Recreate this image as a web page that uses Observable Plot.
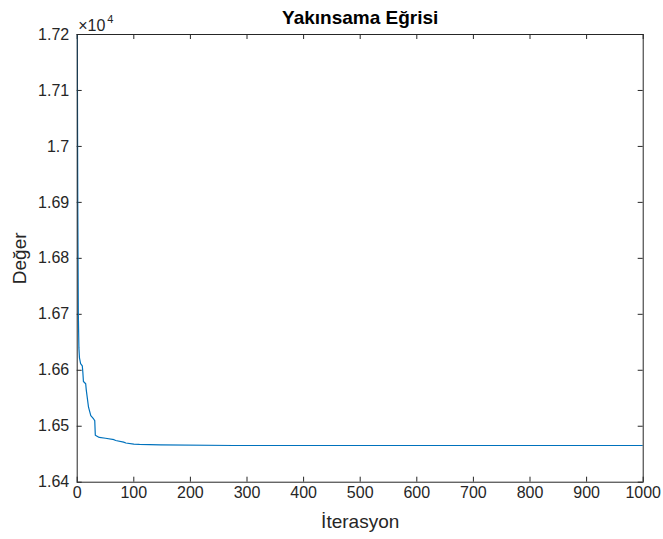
<!DOCTYPE html>
<html><head><meta charset="utf-8">
<script src="https://cdn.jsdelivr.net/npm/d3@7"></script>
<script src="https://cdn.jsdelivr.net/npm/@observablehq/plot@0.6"></script>
<style>html,body{margin:0;padding:0;background:#fff;}</style>
</head><body><div id="chart"></div>
<script>
// Convergence curve (iteration, best value)
const iterations = [0, 1, 2, 3, 4, 6, 9, 10, 11, 15, 16, 20, 24, 29, 31, 32, 39, 50, 65, 68, 82, 86, 100, 110, 147, 277, 1000];
const values = [17250, 16900, 16700, 16640, 16622, 16612, 16608, 16596, 16580, 16576, 16565, 16534, 16519, 16513, 16510, 16484, 16480, 16478.5, 16476, 16474.5, 16471.5, 16470, 16468, 16467.5, 16466.8, 16465.6, 16465.6];

const xTicks = [0, 100, 200, 300, 400, 500, 600, 700, 800, 900, 1000];
const yTicks = [16400, 16500, 16600, 16700, 16800, 16900, 17000, 17100, 17200];
const yTickLabels = ["1.64", "1.65", "1.66", "1.67", "1.68", "1.69", "1.7", "1.71", "1.72"];
const titleText = "Yakınsama Eğrisi";
const xLabelText = "İterasyon";
const yLabelText = "Değer";
const expBase = "×10";
const expPower = "4";

const W = 663, H = 539;
const mL = 76.7, mR = 20.3, mT = 34, mB = 57.3;
const frameH = H - mT - mB, frameW = W - mL - mR;
const ink = "#262626";
const data = iterations.map((x, i) => ({x, y: values[i]}));

const chart = Plot.plot({
  width: W, height: H,
  marginLeft: mL, marginRight: mR, marginTop: mT, marginBottom: mB,
  x: {domain: [0, 1000]},
  y: {domain: [16400, 17200]},
  style: {fontFamily: "'Liberation Sans', Arial, sans-serif", fontSize: "16px", color: ink, background: "#fff", overflow: "visible"},
  marks: [
    Plot.axisX(xTicks, {anchor: "bottom", tickSize: 0, tickPadding: 4, tickFormat: d => String(d), label: null, fontSize: 16}),
    Plot.axisY(yTicks, {anchor: "left", tickSize: 0, tickPadding: 8, tickFormat: d => yTickLabels[yTicks.indexOf(d)], label: null, fontSize: 16}),
    Plot.tickX(xTicks, {x: d => d, stroke: ink, insetTop: frameH - 5}),
    Plot.tickX(xTicks, {x: d => d, stroke: ink, insetBottom: frameH - 5}),
    Plot.tickY(yTicks, {y: d => d, stroke: ink, insetRight: frameW - 5}),
    Plot.tickY(yTicks, {y: d => d, stroke: ink, insetLeft: frameW - 5}),
    Plot.line(data, {x: "x", y: "y", stroke: "#0072BD", strokeWidth: 1.2, clip: true}),
    Plot.frame({stroke: ink}),
    Plot.text([titleText], {frameAnchor: "top", dy: -17, lineAnchor: "middle", text: d => d, fontSize: 19, fontWeight: "bold", fill: "#000"}),
    Plot.text([xLabelText], {frameAnchor: "bottom", dy: 40, lineAnchor: "middle", text: d => d, fontSize: 19, fill: ink}),
    Plot.text([yLabelText], {frameAnchor: "left", dx: -57, rotate: -90, textAnchor: "middle", text: d => d, fontSize: 19, fill: ink}),
    Plot.text([expBase], {frameAnchor: "top-left", dx: 1, dy: -4, lineAnchor: "bottom", textAnchor: "start", text: d => d, fontSize: 16, fill: ink}),
    Plot.text([expPower], {frameAnchor: "top-left", dx: 30, dy: -12, lineAnchor: "bottom", textAnchor: "start", text: d => d, fontSize: 11, fill: ink})
  ]
});
document.getElementById("chart").appendChild(chart);
</script>
</body></html>
